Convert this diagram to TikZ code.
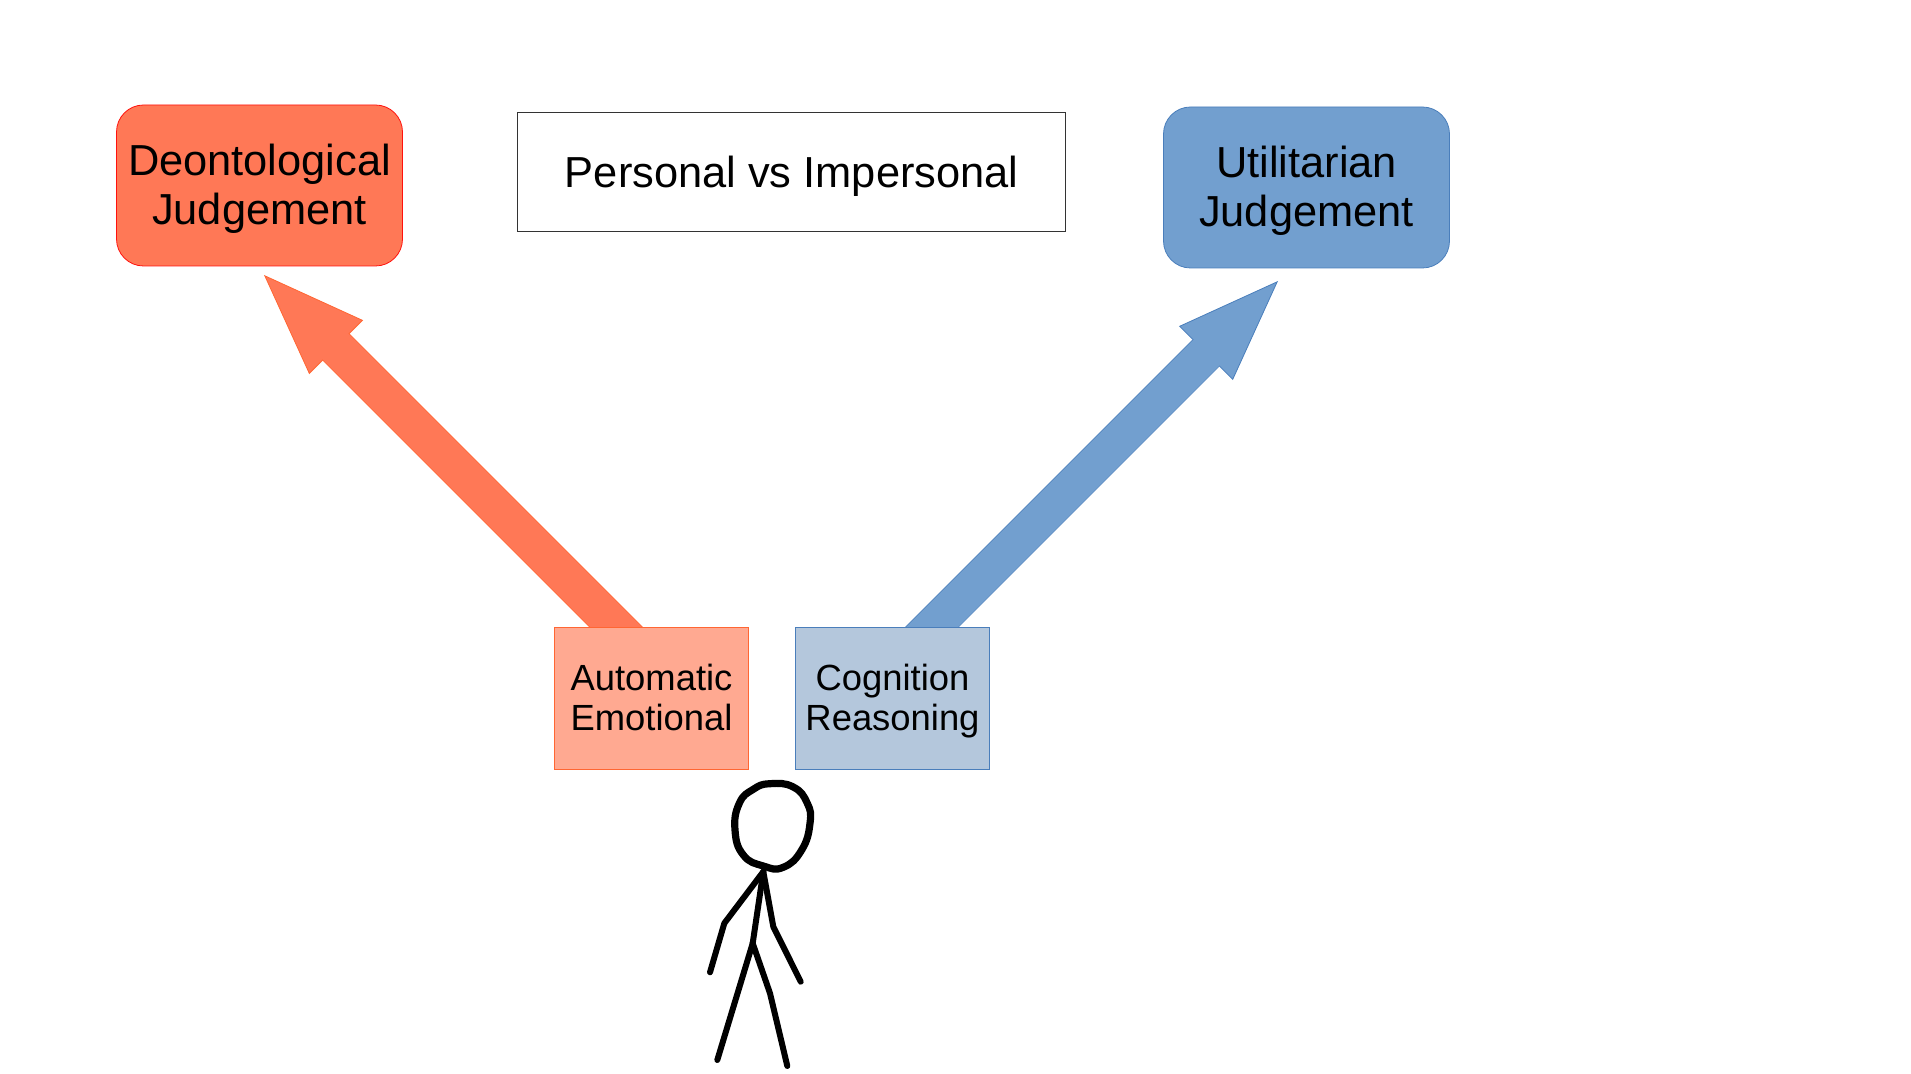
\documentclass[tikz,border=0pt]{standalone}
\usepackage{fontspec}
\setmainfont{Liberation Sans}
\usepackage{xcolor}
\usetikzlibrary{positioning}
\usetikzlibrary{arrows.meta}
\usetikzlibrary{backgrounds}
\definecolor{coralfill}{HTML}{FF7856}
\definecolor{coralpale}{HTML}{FFA991}
\definecolor{coraledge}{HTML}{FF6633}
\definecolor{skyfill}{HTML}{729FCF}
\definecolor{skypale}{HTML}{B4C7DC}
\definecolor{skyedge}{HTML}{4A7EBB}

\tikzset{
   judgebox/.style={rounded corners=13.5pt,minimum width=143pt,minimum height=80.5pt,align=center,text depth=.8pt,font=\fontsize{21.7}{24.5}\selectfont},
   sensebox/.style={minimum width=97pt,minimum height=71pt,align=center,text depth=.6pt,font=\fontsize{18.2}{20}\selectfont},
   bigarrow/.style={line width=.4pt,double distance=18.2pt},
   shaftcover/.style={line width=18.2pt,shorten >=49pt},
   limb/.style={draw=black,line width=3pt,line cap=round,line join=round}
}

\begin{document}
\begin{tikzpicture}[x=0.5pt,y=-0.5pt,node distance=120.5pt,on grid]
   \useasboundingbox (0,0) rectangle (1911,1074);
   \node[judgebox,draw=red!85!coralfill,fill=coralfill] (deon) at (259.5,185.5) {Deontological\\Judgement};
   \node[judgebox,draw=skyedge,fill=skyfill] (util) at (1306.5,187.5) {Utilitarian\\Judgement};
   \node[draw=black!80,line width=.5pt,minimum width=274pt,minimum height=59.5pt,text height=19.4pt,font=\fontsize{21.7}{24}\selectfont] (personal) at (791.7,172.5) {Personal vs Impersonal};
   \node[sensebox,draw=coraledge,fill=coralpale] (emotion) at (651.5,698) {Automatic\\Emotional};
   \node[sensebox,draw=skyedge,fill=skypale] (reason) [right=of emotion] {Cognition\\Reasoning};
   \coordinate (deontip) at (264,275);
   \coordinate (utiltip) at (1278,281);
   \coordinate (deonbase) at (640,651);
   \coordinate (utilbase) at (908,651);
   \begin{pgfonlayer}{background}
      \draw[bigarrow,draw=coraledge,double=coralfill,-{Triangle[length=51pt,width=38pt,line width=.4pt,fill=coralfill,color=coraledge]}] (deonbase) -- (deontip);
      \draw[shaftcover,draw=coralfill] (deonbase) -- (deontip);
      \draw[bigarrow,draw=skyedge,double=skyfill,-{Triangle[length=51pt,width=38pt,line width=.4pt,fill=skyfill,color=skyedge]}] (utilbase) -- (utiltip);
      \draw[shaftcover,draw=skyfill] (utilbase) -- (utiltip);
   \end{pgfonlayer}
   \coordinate (neck) at (763.3,871.7);
   \coordinate (hip) at (752.7,943.3);
   \draw[limb,line width=3.6pt] plot[smooth cycle,tension=.8] coordinates {(770,783.7) (793.3,787) (807.3,803.3) (810,823.3) (801.7,850) (783.3,867.3) (763.3,866) (743.3,855) (735,830) (739.3,803.3) (753.3,789.3)};
   \draw[limb] (neck) -- (hip);
   \draw[limb] (neck) -- (724.3,923.3) -- (710,972.3);
   \draw[limb] (neck) -- (773.3,926.7) -- (800.7,981.7);
   \draw[limb] (hip) -- (717.3,1060);
   \draw[limb] (hip) -- (770,993.3) -- (787.3,1066);
\end{tikzpicture}
\end{document}
